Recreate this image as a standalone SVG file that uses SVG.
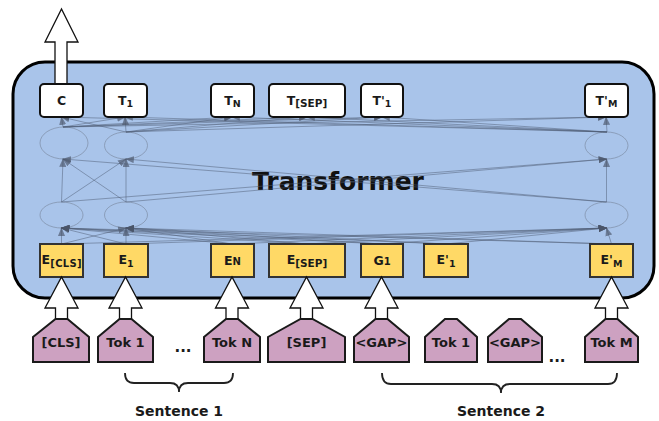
<svg xmlns="http://www.w3.org/2000/svg" width="659" height="421" viewBox="0 0 659 421">
<defs>
<marker id="ah" viewBox="0 0 10 8" refX="9" refY="4" markerWidth="9" markerHeight="7" markerUnits="userSpaceOnUse" orient="auto">
<path d="M0,0 L10,4 L0,8 z" fill="#4A5568" fill-opacity="0.65"/>
</marker>
<style>
.box{fill:#A9C4EA;stroke:#000;stroke-width:3}
.out{fill:#fff;stroke:#111;stroke-width:2}
.emb{fill:#FFD966;stroke:#333;stroke-width:2}
.tok{fill:#CDA1C1;stroke:#1a1a1a;stroke-width:2}
.arr{fill:#fff;stroke:#111;stroke-width:1.3}
.ell{fill:none;stroke:#7D8DA5;stroke-width:1;stroke-opacity:0.7}
.ln{stroke:#4F5D75;stroke-width:1;stroke-opacity:0.5;fill:none;marker-end:url(#ah)}
.t{font-family:"DejaVu Sans",Verdana,sans-serif;font-weight:bold;fill:#1a1a1a;text-anchor:middle}
.bt{font-size:12.5px}
.tk{font-size:13px}
.sn{font-size:14px}
.br{fill:none;stroke:#222;stroke-width:1.8}
</style>
</defs>
<g id="transformer">
<rect class="box" x="13" y="62" width="641" height="236" rx="32" ry="32"/>
<text class="t" x="338" y="190" style="font-size:25px;fill:#111">Transformer</text>
</g>
<g id="neurons">
<ellipse class="ell" cx="64" cy="143" rx="24" ry="16"/>
<ellipse class="ell" cx="126" cy="145.5" rx="21.5" ry="13.5"/>
<ellipse class="ell" cx="606.5" cy="145.5" rx="21.5" ry="13.5"/>
<ellipse class="ell" cx="61.5" cy="215" rx="21.5" ry="13"/>
<ellipse class="ell" cx="126" cy="215" rx="21.5" ry="13"/>
<ellipse class="ell" cx="606.5" cy="215" rx="21.5" ry="13"/>
</g>
<g id="connectors">
<line class="ln" x1="63" y1="127" x2="61.5" y2="117"/>
<line class="ln" x1="63" y1="127" x2="125" y2="117"/>
<line class="ln" x1="63" y1="127" x2="232" y2="117"/>
<line class="ln" x1="63" y1="127" x2="307" y2="117"/>
<line class="ln" x1="63" y1="127" x2="382" y2="117"/>
<line class="ln" x1="63" y1="127" x2="606" y2="117"/>
<line class="ln" x1="126" y1="132" x2="61.5" y2="117"/>
<line class="ln" x1="126" y1="132" x2="125" y2="117"/>
<line class="ln" x1="126" y1="132" x2="232" y2="117"/>
<line class="ln" x1="126" y1="132" x2="307" y2="117"/>
<line class="ln" x1="126" y1="132" x2="382" y2="117"/>
<line class="ln" x1="126" y1="132" x2="606" y2="117"/>
<line class="ln" x1="607" y1="132" x2="61.5" y2="117"/>
<line class="ln" x1="607" y1="132" x2="125" y2="117"/>
<line class="ln" x1="607" y1="132" x2="232" y2="117"/>
<line class="ln" x1="607" y1="132" x2="307" y2="117"/>
<line class="ln" x1="607" y1="132" x2="382" y2="117"/>
<line class="ln" x1="607" y1="132" x2="606" y2="117"/>
<line class="ln" x1="61.5" y1="202" x2="63" y2="159"/>
<line class="ln" x1="61.5" y1="202" x2="126" y2="159"/>
<line class="ln" x1="61.5" y1="202" x2="606.5" y2="159"/>
<line class="ln" x1="126" y1="202" x2="63" y2="159"/>
<line class="ln" x1="126" y1="202" x2="126" y2="159"/>
<line class="ln" x1="126" y1="202" x2="606.5" y2="159"/>
<line class="ln" x1="606.5" y1="202" x2="63" y2="159"/>
<line class="ln" x1="606.5" y1="202" x2="126" y2="159"/>
<line class="ln" x1="606.5" y1="202" x2="606.5" y2="159"/>
<line class="ln" x1="61.5" y1="244" x2="61.5" y2="228"/>
<line class="ln" x1="61.5" y1="244" x2="126" y2="228"/>
<line class="ln" x1="61.5" y1="244" x2="606.5" y2="228"/>
<line class="ln" x1="126" y1="244" x2="61.5" y2="228"/>
<line class="ln" x1="126" y1="244" x2="126" y2="228"/>
<line class="ln" x1="126" y1="244" x2="606.5" y2="228"/>
<line class="ln" x1="232.5" y1="244" x2="61.5" y2="228"/>
<line class="ln" x1="232.5" y1="244" x2="126" y2="228"/>
<line class="ln" x1="232.5" y1="244" x2="606.5" y2="228"/>
<line class="ln" x1="307" y1="244" x2="61.5" y2="228"/>
<line class="ln" x1="307" y1="244" x2="126" y2="228"/>
<line class="ln" x1="307" y1="244" x2="606.5" y2="228"/>
<line class="ln" x1="382" y1="244" x2="61.5" y2="228"/>
<line class="ln" x1="382" y1="244" x2="126" y2="228"/>
<line class="ln" x1="382" y1="244" x2="606.5" y2="228"/>
<line class="ln" x1="446" y1="244" x2="61.5" y2="228"/>
<line class="ln" x1="446" y1="244" x2="126" y2="228"/>
<line class="ln" x1="446" y1="244" x2="606.5" y2="228"/>
<line class="ln" x1="611.5" y1="244" x2="61.5" y2="228"/>
<line class="ln" x1="611.5" y1="244" x2="126" y2="228"/>
<line class="ln" x1="611.5" y1="244" x2="606.5" y2="228"/>
</g>
<g id="output-arrow">
<path class="arr" d="M55,84 L55,42 L45,42 L61.5,9 L78,42 L67,42 L67,84 Z"/>
</g>
<g id="out-C"><rect class="out" x="40" y="84" width="43" height="33" rx="4"/><text class="t bt" x="61.5" y="105">C</text></g>
<g id="out-T1"><rect class="out" x="104" y="84" width="43" height="33" rx="4"/><text class="t bt" x="125.5" y="105">T<tspan font-size="9.5" dy="2">1</tspan></text></g>
<g id="out-TN"><rect class="out" x="211" y="84" width="43" height="33" rx="4"/><text class="t bt" x="232.5" y="105">T<tspan font-size="9.5" dy="2">N</tspan></text></g>
<g id="out-TSEP"><rect class="out" x="269" y="84" width="76" height="33" rx="4"/><text class="t bt" x="307" y="105">T<tspan font-size="10.5" dy="2">[SEP]</tspan></text></g>
<g id="out-T1p"><rect class="out" x="361" y="84" width="42" height="33" rx="4"/><text class="t bt" x="382" y="105">T'<tspan font-size="9.5" dy="2">1</tspan></text></g>
<g id="out-TMp"><rect class="out" x="585" y="84" width="43" height="33" rx="4"/><text class="t bt" x="606.5" y="105">T'<tspan font-size="9.5" dy="2">M</tspan></text></g>
<g id="emb-CLS"><rect class="emb" x="40" y="244" width="43" height="33"/><text class="t bt" x="61.5" y="264" textLength="40">E<tspan font-size="10" dy="3">[CLS]</tspan></text></g>
<g id="emb-E1"><rect class="emb" x="104" y="244" width="44" height="33"/><text class="t bt" x="126" y="264">E<tspan font-size="9.5" dy="3">1</tspan></text></g>
<g id="emb-EN"><rect class="emb" x="211" y="244" width="43" height="33"/><text class="t bt" x="232.5" y="265">E<tspan font-size="10">N</tspan></text></g>
<g id="emb-ESEP"><rect class="emb" x="269" y="244" width="76" height="33"/><text class="t bt" x="307" y="264">E<tspan font-size="10.5" dy="3">[SEP]</tspan></text></g>
<g id="emb-G1"><rect class="emb" x="361" y="244" width="42" height="33"/><text class="t bt" x="382" y="265">G<tspan font-size="10">1</tspan></text></g>
<g id="emb-E1p"><rect class="emb" x="424" y="244" width="44" height="33"/><text class="t bt" x="446" y="264">E'<tspan font-size="9.5" dy="3">1</tspan></text></g>
<g id="emb-EMp"><rect class="emb" x="590" y="244" width="43" height="33"/><text class="t bt" x="611.5" y="264">E'<tspan font-size="9.5" dy="3">M</tspan></text></g>
<g id="input-arrows">
<path class="arr" d="M55.5,320 L55.5,308 L45,308 L61.5,277 L78,308 L67.5,308 L67.5,320 Z"/>
<path class="arr" d="M119.5,320 L119.5,308 L109,308 L125.5,277 L142,308 L131.5,308 L131.5,320 Z"/>
<path class="arr" d="M226,320 L226,308 L215.5,308 L232,277 L248.5,308 L238,308 L238,320 Z"/>
<path class="arr" d="M300.5,320 L300.5,308 L290,308 L306.5,277 L323,308 L312.5,308 L312.5,320 Z"/>
<path class="arr" d="M375.5,320 L375.5,308 L365,308 L381.5,277 L398,308 L387.5,308 L387.5,320 Z"/>
<path class="arr" d="M605.5,320 L605.5,308 L595,308 L611.5,277 L628,308 L617.5,308 L617.5,320 Z"/>
</g>
<g id="tok-CLS"><path class="tok" d="M33,337 L55.5,319 L67.5,319 L89,337 L89,362 L33,362 Z"/><text class="t tk" x="61" y="347">[CLS]</text></g>
<g id="tok-Tok1"><path class="tok" d="M98,337 L119.5,319 L131.5,319 L153,337 L153,362 L98,362 Z"/><text class="t tk" x="125.5" y="347">Tok 1</text></g>
<g id="tok-TokN"><path class="tok" d="M204,337 L226,319 L238,319 L260,337 L260,362 L204,362 Z"/><text class="t tk" x="232" y="347">Tok N</text></g>
<g id="tok-SEP"><path class="tok" d="M268,337 L300.5,319 L312.5,319 L345,337 L345,362 L268,362 Z"/><text class="t tk" x="306.5" y="347">[SEP]</text></g>
<g id="tok-GAP"><path class="tok" d="M354,337 L375.5,319 L387.5,319 L409,337 L409,362 L354,362 Z"/><text class="t tk" x="381.5" y="347">&lt;GAP&gt;</text></g>
<g id="tok-Tok1b"><path class="tok" d="M425,337 L445,319 L457,319 L477,337 L477,362 L425,362 Z"/><text class="t tk" x="451" y="347">Tok 1</text></g>
<g id="tok-GAPb"><path class="tok" d="M488,337 L509,319 L521,319 L542,337 L542,362 L488,362 Z"/><text class="t tk" x="515" y="347">&lt;GAP&gt;</text></g>
<g id="tok-TokM"><path class="tok" d="M585,337 L605.5,319 L617.5,319 L638,337 L638,362 L585,362 Z"/><text class="t tk" x="611.5" y="347">Tok M</text></g>
<g id="ellipsis">
<text class="t" x="183" y="352" style="font-size:15px">...</text>
<text class="t" x="557" y="362" style="font-size:15px">...</text>
</g>
<g id="sentence1">
<path class="br" d="M125,373 Q125,383 134,383 L170,383 Q179,383 179,392 Q179,383 188,383 L224,383 Q233,383 233,373"/>
<text class="t sn" x="179" y="416">Sentence 1</text>
</g>
<g id="sentence2">
<path class="br" d="M382,373 Q382,384 391,384 L492,384 Q501,384 501,393 Q501,384 510,384 L608,384 Q617,384 617,373"/>
<text class="t sn" x="501" y="416">Sentence 2</text>
</g>
</svg>
